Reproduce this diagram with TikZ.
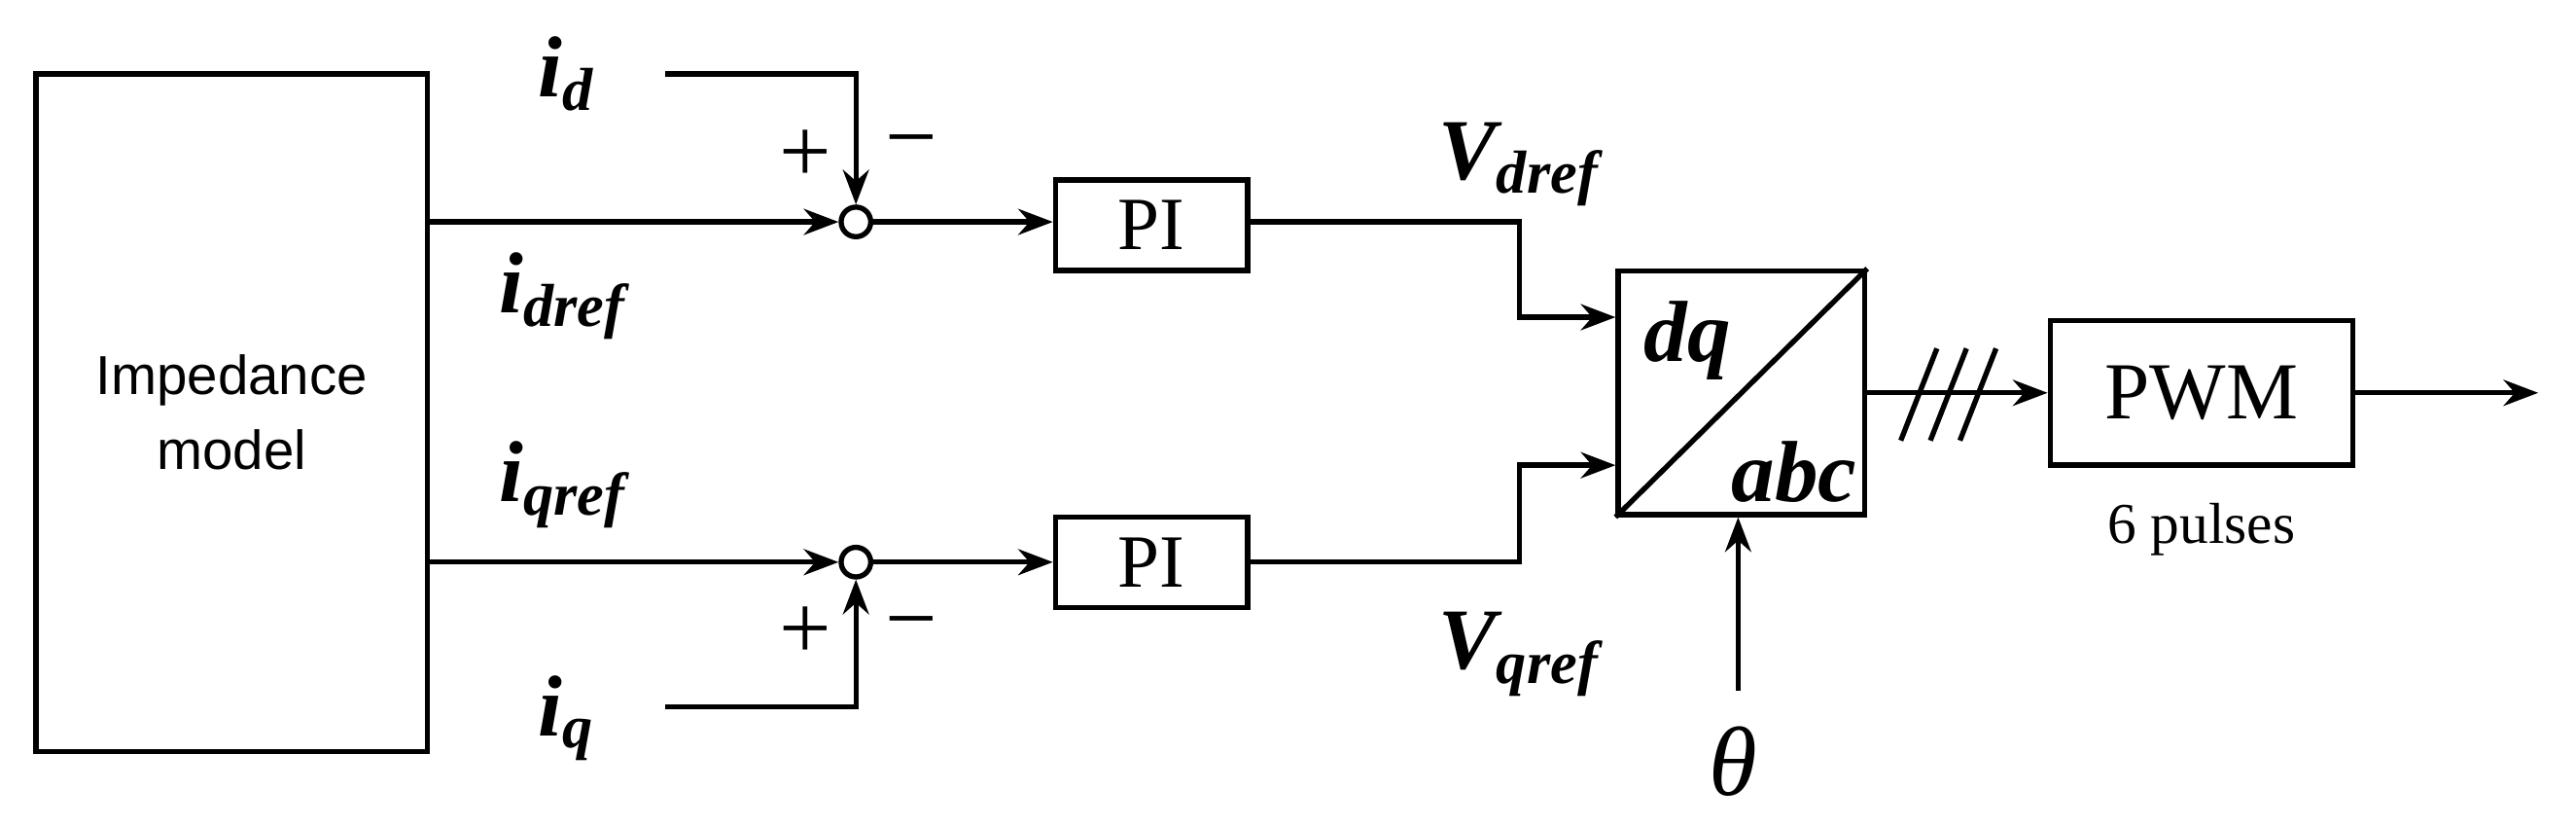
\documentclass[tikz,border=0pt]{standalone}
\usepackage{fontspec}
\setmainfont{Liberation Serif}
\newfontfamily\sansf{Liberation Sans}
\usetikzlibrary{arrows.meta}
\begin{document}
\begin{tikzpicture}[x=0.01cm,y=-0.01cm,
  line width=0.9pt, >={Stealth[length=6pt,width=4.5pt]},
  blk/.style={draw,minimum width=#1,inner sep=0pt},
  sumc/.style={draw,circle,minimum size=0.18cm,inner sep=0pt},
  lbl/.style={font=\fontsize{15}{17}\selectfont\bfseries\itshape},
  sgn/.style={font=\fontsize{16}{18}\selectfont}]
\useasboundingbox (0,0) rectangle (1568,502);
% blocks
\node[blk=2.38cm,minimum height=4.12cm,align=center,font=\sansf\fontsize{9.5}{13}\selectfont] (imp) at (141,251) {Impedance\\model};
\node[sumc] (s1) at (521,135) {};
\node[sumc] (s2) at (521,342) {};
\node[blk=1.17cm,minimum height=0.55cm,font=\fontsize{13}{14}\selectfont] (pi1) at (701,137) {PI};
\node[blk=1.17cm,minimum height=0.55cm,font=\fontsize{13}{14}\selectfont] (pi2) at (701,342) {PI};
\node[blk=1.5cm,minimum height=1.48cm] (tr) at (1060,239) {};
\draw (tr.south west) -- (tr.north east);
\node[lbl] (dq) at (1027,207) {dq};
\node[lbl] (abc) at (1092,287) {abc};
\node[blk=1.84cm,minimum height=0.88cm,font=\fontsize{14}{15}\selectfont] (pwm) at (1340,239) {PWM};
\node[font=\fontsize{10}{11}\selectfont] (pul) at (1340,322) {6 pulses};
% labels
\node[lbl] (id) at (345,45) {i\textsubscript{d}};
\node[lbl] (iq) at (345,437) {i\textsubscript{q}};
\node[lbl] (idr) at (343,180) {i\textsubscript{dref}};
\node[lbl] (iqr) at (343,295) {i\textsubscript{qref}};
\node[lbl] (vd) at (925,100) {V\textsubscript{dref}};
\node[lbl] (vq) at (925,398) {V\textsubscript{qref}};
\node[font=\fontsize{17}{19}\selectfont\itshape] (th) at (1055,463) {θ};
\node[sgn] (p1) at (490,95) {+};
\node[sgn] (m1) at (555,92) {−};
\node[sgn] (p2) at (490,385) {+};
\node[sgn] (m2) at (555,385) {−};
% coordinates
\coordinate (a1) at (405,45);
\coordinate (a2) at (405,430);
\coordinate (th0) at (1058,420);
\coordinate (out) at (1545,239);
% wires
\draw[->] (imp.east |- s1) -- (s1);
\draw[->] (imp.east |- s2) -- (s2);
\draw[->] (a1) -| (s1.north);
\draw[->] (a2) -| (s2.south);
\draw[->] (s1) -- (pi1.west |- s1);
\draw[->] (s2) -- (pi2);
\draw[->] (pi1.east |- s1) -- (925,135) |- ([yshift=0.46cm]tr.west);
\draw[->] (pi2) -- (925,342) |- ([yshift=-0.44cm]tr.west);
\draw[->] (th0) -- (tr.south -| th0);
\draw[->] (tr) -- (pwm);
\draw[->] (pwm) -- (out);
\foreach \x in {1168,1186,1204}
  \draw (\x-11,268) -- (\x+11,212);
\end{tikzpicture}
\end{document}
